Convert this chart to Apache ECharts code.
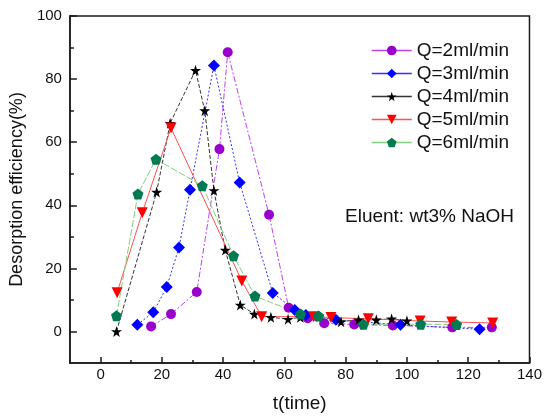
<!DOCTYPE html>
<html>
<head>
<meta charset="utf-8">
<script src="https://cdn.jsdelivr.net/npm/echarts@6/dist/echarts.min.js"></script>
<style>html,body{margin:0;padding:0;background:#fff}#c{width:545px;height:418px}</style>
</head>
<body>
<div id="c"></div>
<script>
// Data
var seriesNames = ['Q=2ml/min', 'Q=3ml/min', 'Q=4ml/min', 'Q=5ml/min', 'Q=6ml/min'];
var q2x = [16.5, 23, 31.4, 38.8, 41.5, 55, 61.4, 67.6, 73, 82.8, 95.4, 114.8, 127.7];
var q2y = [1.6, 5.5, 12.5, 57.8, 88.5, 37, 7.5, 4.2, 2.6, 2.2, 1.9, 1.3, 1.3];
var q3x = [12, 17.2, 21.6, 25.6, 29.2, 37, 45.4, 56.2, 63.4, 67, 76.8, 97.9, 123.7];
var q3y = [2.1, 6.1, 14.1, 26.6, 44.9, 84.3, 47.2, 12.2, 6.8, 5.2, 3.7, 2.1, 0.7];
var q4x = [5.2, 18.3, 22.7, 31, 34, 37, 40.7, 45.6, 50.2, 55.6, 61.2, 65.2, 78.5, 84.2, 90, 95, 100];
var q4y = [0, 44.2, 66, 82.8, 70, 44.7, 25.8, 8.4, 5.5, 4.5, 3.9, 4.5, 3.1, 3.7, 3.7, 4, 3.4];
var q5x = [5.4, 13.6, 23, 46.1, 52.6, 69.5, 75.2, 87.4, 104.3, 114.6, 128];
var q5y = [12.3, 37.6, 64.5, 16, 4.7, 4.7, 4.4, 4, 3.3, 3, 2.7];
var q6x = [5.2, 12.2, 18.1, 33.2, 43.4, 50.4, 65.3, 71.2, 85.8, 104.5, 116.2];
var q6y = [5, 43.6, 54.6, 46.2, 24, 11.2, 5.5, 4.9, 2.3, 2.3, 2.2];
var xMajorTicks = [0, 20, 40, 60, 80, 100, 120, 140];
var xMinorTicks = [10, 30, 50, 70, 90, 110, 130];
var yMajorTicks = [0, 20, 40, 60, 80, 100];
var yMinorTicks = [10, 30, 50, 70, 90];

function pairs(xs, ys) { return xs.map(function (x, i) { return [x, ys[i]]; }); }

var starPath = 'path://M50,0 L61,35 L98,35 L68,57 L79,91 L50,70 L21,91 L32,57 L2,35 L39,35 Z';
var pentPath = 'path://M50,0 L98,35 L79,91 L21,91 L2,35 Z';

var styles = [
  {sym: 'circle', size: 10, rot: 0, mc: '#9900cc', lc: '#c040f0', lt: [6, 2, 2, 2]},
  {sym: 'diamond', size: 12, rot: 0, mc: '#0000ff', lc: '#3030ff', lt: [2, 2]},
  {sym: starPath, size: 11, rot: 0, mc: '#000000', lc: '#333333', lt: [4, 2]},
  {sym: 'triangle', size: 11, rot: 180, mc: '#ff0000', lc: '#ff5050', lt: 'solid'},
  {sym: pentPath, size: 11, rot: 0, mc: '#007a50', lc: '#7fd07f', lt: [7, 2]}
];
var datasets = [pairs(q2x, q2y), pairs(q3x, q3y), pairs(q4x, q4y), pairs(q5x, q5y), pairs(q6x, q6y)];

var series = seriesNames.map(function (n, i) {
  var s = styles[i];
  return {
    name: n, type: 'line', data: datasets[i], xAxisIndex: 0, yAxisIndex: 0,
    symbol: s.sym, symbolSize: s.size, symbolRotate: s.rot,
    itemStyle: {color: s.mc, borderWidth: 0},
    lineStyle: {color: s.lc, width: 1, type: s.lt},
    animation: false
  };
});

var font = 'Arial, "Liberation Sans", sans-serif';
var chart = echarts.init(document.getElementById('c'));
chart.setOption({
  backgroundColor: '#fff',
  animation: false,
  grid: {left: 68, right: 13, top: 16, bottom: 51, show: true, borderColor: '#1a1a1a', borderWidth: 1.5, containLabel: false},
  legend: {
    orient: 'vertical', left: 366, top: 36, itemWidth: 40, itemHeight: 12, itemGap: 4,
    textStyle: {fontSize: 19, fontFamily: font, color: '#111'},
    lineStyle: {type: 'solid', width: 1.5},
    data: seriesNames
  },
  xAxis: [{
    type: 'value', min: -10, max: 140, interval: 10,
    name: 't(time)', nameLocation: 'middle', nameGap: 31,
    nameTextStyle: {fontSize: 19, fontFamily: font, color: '#111'},
    axisLine: {show: true, onZero: false, lineStyle: {color: '#1a1a1a', width: 1.5}},
    axisTick: {show: true, inside: true, length: 6, customValues: xMajorTicks, lineStyle: {color: '#1a1a1a', width: 1.5}},
    axisLabel: {customValues: xMajorTicks, fontSize: 15, fontFamily: font, color: '#111', margin: 4},
    splitLine: {show: false}
  }, {
    type: 'value', min: -10, max: 140, interval: 10, position: 'bottom',
    axisLine: {show: false, onZero: false},
    axisTick: {show: true, inside: true, length: 3, customValues: xMinorTicks, lineStyle: {color: '#1a1a1a', width: 1.5}},
    axisLabel: {show: false}, splitLine: {show: false}
  }],
  yAxis: [{
    type: 'value', min: -10, max: 100, interval: 10,
    name: 'Desorption efficiency(%)', nameLocation: 'middle', nameGap: 37,
    nameTextStyle: {fontSize: 18, fontFamily: font, color: '#111'},
    axisLine: {show: true, onZero: false, lineStyle: {color: '#1a1a1a', width: 1.5}},
    axisTick: {show: true, inside: true, length: 7, customValues: yMajorTicks, lineStyle: {color: '#1a1a1a', width: 1.5}},
    axisLabel: {customValues: yMajorTicks, fontSize: 15, fontFamily: font, color: '#111', margin: 8},
    splitLine: {show: false}
  }, {
    type: 'value', min: -10, max: 100, interval: 10, position: 'left',
    axisLine: {show: false, onZero: false},
    axisTick: {show: true, inside: true, length: 4, customValues: yMinorTicks, lineStyle: {color: '#1a1a1a', width: 1.5}},
    axisLabel: {show: false}, splitLine: {show: false}
  }],
  graphic: [{
    type: 'text', left: 345, top: 207,
    style: {text: 'Eluent: wt3% NaOH', fontSize: 19, fontFamily: font, fill: '#111'}
  }],
  series: series
});
</script>
</body>
</html>
